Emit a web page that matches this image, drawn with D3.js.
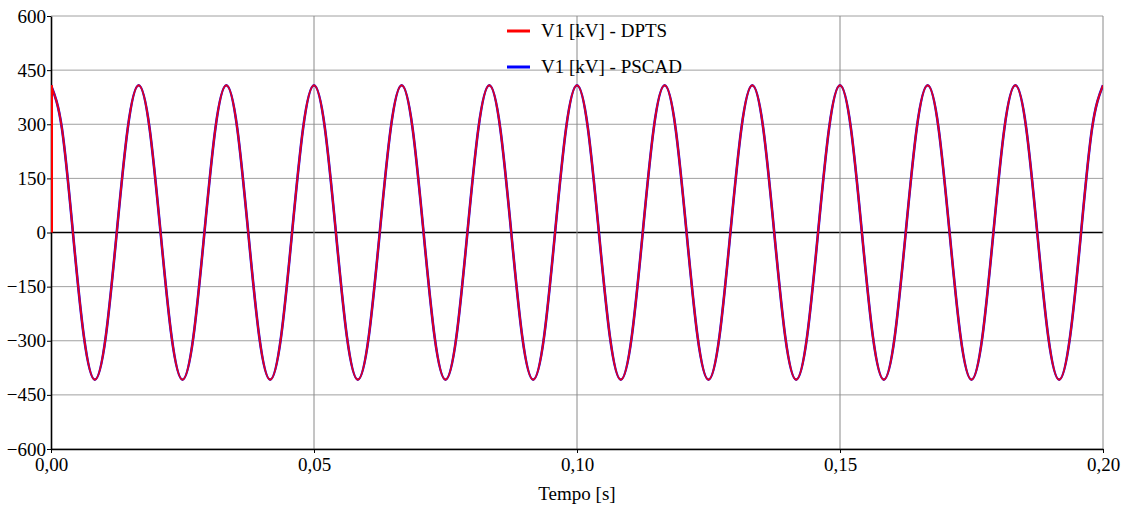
<!DOCTYPE html>
<html><head><meta charset="utf-8">
<script src="https://cdn.jsdelivr.net/npm/d3@7"></script>
<style>body{margin:0;background:#fff}svg{display:block} svg text{font-family:"Liberation Serif",serif !important;font-size:19px !important}</style>
</head><body><svg id="c" width="1126" height="506"></svg>
<script>
const sampleStep = 0.0020833;
const pscadValues = [
 408,288,0,-288,-408,-288,0,288,
 408,288,0,-288,-408,-288,0,288,
 408,288,0,-288,-408,-288,0,288,
 408,288,0,-288,-408,-288,0,288,
 408,288,0,-288,-408,-288,0,288,
 408,288,0,-288,-408,-288,0,288,
 408,288,0,-288,-408,-288,0,288,
 408,288,0,-288,-408,-288,0,288,
 408,288,0,-288,-408,-288,0,288,
 408,288,0,-288,-408,-288,0,288,
 408,288,0,-288,-408,-288,0,288,
 408,288,0,-288,-408,-288,0,288,
 408];
const dptsValues = pscadValues.slice();
const dptsInitial = 0; // DPTS starts at 0 kV at t = 0
const seriesNames = ["V1 [kV] - DPTS","V1 [kV] - PSCAD"];
const seriesColors = ["#ff0000","#0000ff"];
const yTicks = [-600,-450,-300,-150,0,150,300,450,600];
const xTicks = [0,0.05,0.10,0.15,0.20];
const xLabel = "Tempo [s]";

const svg = d3.select("#c");
const m = {l:51, r:23, t:16, b:57};
const W = 1126, H = 506;
const x = d3.scaleLinear().domain([0,0.2]).range([m.l, W-m.r]);
const y = d3.scaleLinear().domain([-600,600]).range([H-m.b, m.t]);

// grid
svg.append("g").selectAll("line").data(yTicks).join("line")
 .attr("x1",m.l).attr("x2",W-m.r).attr("y1",d=>y(d)).attr("y2",d=>y(d))
 .attr("stroke",d=>d===0?"#000":"#a0a0a0").attr("stroke-width",d=>d===0?1.3:1);
svg.append("g").selectAll("line").data(xTicks.filter(d=>d>0)).join("line")
 .attr("x1",d=>x(d)).attr("x2",d=>x(d)).attr("y1",m.t).attr("y2",H-m.b)
 .attr("stroke","#8a8a8a").attr("stroke-width",1);

// axes
const fmtX = d => d3.format(".2f")(d).replace(".",",");
const yAxis = svg.append("g").attr("transform","translate(" + m.l + ",0)")
 .call(d3.axisLeft(y).tickValues(yTicks).tickSize(4).tickSizeOuter(0).tickFormat(d3.format("d")));
const xAxis = svg.append("g").attr("transform","translate(0," + (H-m.b) + ")")
 .call(d3.axisBottom(x).tickValues(xTicks).tickSize(4).tickSizeOuter(0).tickFormat(fmtX));
[yAxis,xAxis].forEach(a=>{
 a.attr("font-family",null).attr("font-size",null);
 a.select(".domain").attr("stroke","#000").attr("stroke-width",1.6);
 a.selectAll(".tick line").attr("stroke","#000");
 a.selectAll("text").attr("fill","#000").style("font-family","Liberation Serif").style("font-size","19px");
});
yAxis.selectAll("text").attr("x",-5);
xAxis.selectAll("text").attr("y",9);
svg.append("text").attr("x",(m.l+W-m.r)/2).attr("y",500).attr("text-anchor","middle")
 .style("font-family","Liberation Serif").style("font-size","19px").text(xLabel);

// series
const pscad = pscadValues.map((v,i)=>({t:i*sampleStep, v}));
const dpts = dptsValues.map((v,i)=>({t:i*sampleStep, v}));
const line = d3.line().x(d=>x(d.t)).y(d=>y(d.v)).curve(d3.curveNatural);
svg.append("defs").append("clipPath").attr("id","clip").append("rect")
 .attr("x",m.l).attr("y",m.t).attr("width",W-m.l-m.r).attr("height",H-m.t-m.b);
const plot = svg.append("g").attr("clip-path","url(#clip)");
plot.append("path").datum(pscad).attr("d",line).attr("fill","none")
 .attr("stroke",seriesColors[1]).attr("stroke-width",2.6);
plot.append("path").datum([{t:0,v:dptsInitial},dpts[0]]).attr("d",d3.line().x(d=>x(d.t)+1).y(d=>y(d.v)))
 .attr("fill","none").attr("stroke",seriesColors[0]).attr("stroke-width",2);
plot.append("path").datum(dpts).attr("d",line).attr("fill","none")
 .attr("stroke",seriesColors[0]).attr("stroke-width",2).attr("stroke-opacity",0.88);

// legend
const lg = svg.append("g");
seriesNames.forEach((n,i)=>{
 const yy = 31 + i*36;
 lg.append("line").attr("x1",507).attr("x2",530).attr("y1",yy).attr("y2",yy)
  .attr("stroke",seriesColors[i]).attr("stroke-width",3);
 lg.append("text").attr("x",541).attr("y",yy+6)
  .style("font-family","Liberation Serif").style("font-size","19px").text(n);
});
</script></body></html>
